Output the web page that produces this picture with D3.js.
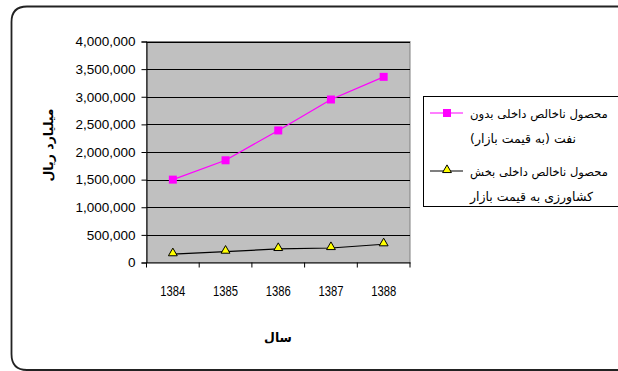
<!DOCTYPE html>
<html>
<head>
<meta charset="utf-8">
<script src="https://cdn.jsdelivr.net/npm/d3@7"></script>
<style>
  body { margin: 0; background: #fff; }
  svg { display: block; }
</style>
</head>
<body>
<svg id="chart" width="618" height="371"></svg>
<script>
const years = ['1384', '1385', '1386', '1387', '1388'];
const gdpNoOil = [1500000, 1850000, 2390000, 2950000, 3360000];
const gdpAgri = [150000, 196000, 245000, 262000, 330000];
const yTicks = [0, 500000, 1000000, 1500000, 2000000, 2500000, 3000000, 3500000, 4000000];
const seriesNames = [
  ['محصول ناخالص داخلی بدون', 'نفت (به قیمت بازار)'],
  ['محصول ناخالص داخلی بخش', 'کشاورزی به قیمت بازار']
];

const svg = d3.select('#chart');

const plot = { left: 146.5, top: 41.5, right: 410, bottom: 262.5 };

const x = d3.scaleBand().domain(years).range([plot.left, plot.right]);
const y = d3.scaleLinear().domain([0, 4000000]).range([plot.bottom, plot.top]);

// plot background
svg.append('rect')
  .attr('x', plot.left).attr('y', plot.top)
  .attr('width', plot.right - plot.left).attr('height', plot.bottom - plot.top)
  .attr('fill', '#c0c0c0')
  .attr('stroke', '#808080')
  .attr('stroke-width', 1);

// gridlines
svg.append('g')
  .selectAll('line')
  .data(yTicks.filter(d => d > 0))
  .join('line')
  .attr('x1', plot.left).attr('x2', plot.right)
  .attr('y1', d => Math.round(y(d)) + 0.5).attr('y2', d => Math.round(y(d)) + 0.5)
  .attr('stroke', '#000')
  .attr('stroke-width', 1);

// y axis
const yAxis = d3.axisLeft(y)
  .tickValues(yTicks)
  .tickFormat(d3.format(','))
  .tickSize(5)
  .tickPadding(6);

const gy = svg.append('g')
  .attr('transform', 'translate(' + plot.left + ',0)')
  .call(yAxis);
gy.select('.domain').attr('stroke', '#000');
gy.selectAll('.tick line').attr('stroke', '#000');
gy.selectAll('text')
  .attr('font-family', 'Liberation Sans, Arial, sans-serif')
  .attr('font-size', 13.5)
  .attr('fill', '#000');

// x axis
const xAxis = d3.axisBottom(x).tickSize(0).tickPadding(22);
const gx = svg.append('g')
  .attr('transform', 'translate(0,' + plot.bottom + ')')
  .call(xAxis);
gx.select('.domain').attr('stroke', '#000').attr('stroke-width', 1.2);
gx.selectAll('text')
  .attr('font-family', 'Liberation Sans, Arial, sans-serif')
  .attr('font-size', 15.5)
  .attr('textLength', 25)
  .attr('lengthAdjust', 'spacingAndGlyphs')
  .attr('fill', '#000');

// category boundary ticks
svg.append('g')
  .selectAll('line')
  .data(years.concat(['end']))
  .join('line')
  .attr('x1', (d, i) => i < years.length ? x(d) : plot.right)
  .attr('x2', (d, i) => i < years.length ? x(d) : plot.right)
  .attr('y1', plot.bottom)
  .attr('y2', plot.bottom + 5)
  .attr('stroke', '#000');

// lines
const line = d3.line()
  .x((d, i) => x(years[i]) + x.bandwidth() / 2)
  .y(d => y(d));

svg.append('path')
  .datum(gdpNoOil)
  .attr('d', line)
  .attr('fill', 'none')
  .attr('stroke', '#ff00ff')
  .attr('stroke-width', 1.2);

svg.append('path')
  .datum(gdpAgri)
  .attr('d', line)
  .attr('fill', 'none')
  .attr('stroke', '#000')
  .attr('stroke-width', 1.2);

const tri = d3.symbol().type(d3.symbolTriangle).size(34);

svg.append('g')
  .selectAll('rect')
  .data(gdpNoOil)
  .join('rect')
  .attr('x', (d, i) => x(years[i]) + x.bandwidth() / 2 - 4)
  .attr('y', d => y(d) - 4)
  .attr('width', 8).attr('height', 8)
  .attr('fill', '#ff00ff');

svg.append('g')
  .selectAll('path')
  .data(gdpAgri)
  .join('path')
  .attr('d', tri)
  .attr('transform', (d, i) => 'translate(' + (x(years[i]) + x.bandwidth() / 2) + ',' + (y(d) - 1) + ')')
  .attr('fill', '#ffff00')
  .attr('stroke', '#000')
  .attr('stroke-width', 1);

// axis titles
svg.append('text')
  .attr('transform', 'translate(53,145) rotate(-90)')
  .attr('text-anchor', 'middle')
  .attr('font-family', 'DejaVu Sans, sans-serif')
  .attr('font-weight', 'bold')
  .attr('font-size', 12.5)
  .text('میلیارد ریال');

svg.append('text')
  .attr('x', 278).attr('y', 342)
  .attr('text-anchor', 'middle')
  .attr('font-family', 'DejaVu Sans, sans-serif')
  .attr('font-weight', 'bold')
  .attr('font-size', 12.5)
  .text('سال');

// legend
const legend = svg.append('g');
legend.append('rect')
  .attr('x', 423.5).attr('y', 96.5)
  .attr('width', 210).attr('height', 110)
  .attr('fill', '#fff')
  .attr('stroke', '#000')
  .attr('stroke-width', 1);

const legendRows = [
  { y: 113, color: '#ff00ff', marker: 'square' },
  { y: 171, color: '#000', marker: 'triangle' }
];

legendRows.forEach((r, k) => {
  legend.append('line')
    .attr('x1', 430).attr('x2', 463)
    .attr('y1', r.y).attr('y2', r.y)
    .attr('stroke', r.color)
    .attr('stroke-width', 1.2);
  if (r.marker === 'square') {
    legend.append('rect')
      .attr('x', 443).attr('y', r.y - 4)
      .attr('width', 8).attr('height', 8)
      .attr('fill', '#ff00ff');
  } else {
    legend.append('path')
      .attr('d', tri)
      .attr('transform', 'translate(447,' + (r.y - 1) + ')')
      .attr('fill', '#ffff00')
      .attr('stroke', '#000');
  }
  seriesNames[k].forEach((t, j) => {
    const txt = legend.append('text')
      .attr('x', 470)
      .attr('y', r.y + 5 + j * 25)
      .attr('direction', 'rtl')
      .attr('text-anchor', 'end')
      .attr('font-family', 'DejaVu Sans, sans-serif')
      .attr('font-size', 12.5)
      .text(t);
    // keep the long first lines inside the window
    const w = txt.node().getComputedTextLength();
    if (470 + w > 608) txt.attr('font-size', 12.5 * (608 - 470) / w);
  });
});

// outer frame, drawn last so nothing covers it
svg.append('path')
  .attr('d', 'M 630 6.5 L 27 6.5 Q 11.5 6.5 11.5 22 L 11.5 354 Q 11.5 370 27 370 L 630 370')
  .attr('fill', 'none')
  .attr('stroke', '#222')
  .attr('stroke-width', 1.8);
</script>
</body>
</html>
